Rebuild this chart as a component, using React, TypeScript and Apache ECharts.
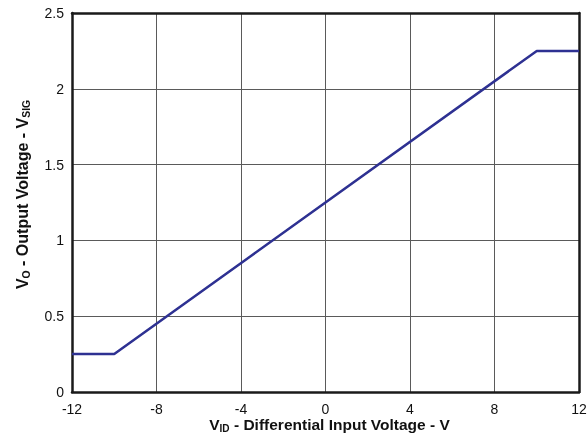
import React, { useEffect, useRef } from "react";
import * as echarts from "echarts";

// Transfer curve: differential input voltage (V) vs output voltage (V)
const inputVoltage = [-12, -10, 10, 12];
const outputVoltage = [0.25, 0.25, 2.25, 2.25];
const xTicks = { min: -12, max: 12, interval: 4 };
const yTicks = { min: 0, max: 2.5, interval: 0.5 };

const FONT = "'Liberation Sans', Arial, sans-serif";
const FRAME = { show: true, onZero: false, lineStyle: { color: "#1a1a1a", width: 2.5 } };
const GRID_LINE = { show: true, showMinLine: false, showMaxLine: false, lineStyle: { color: "#5a5a5a", width: 1 } };

const titleRich = (size: number) => ({
  b: { fontSize: size, fontWeight: "bold", fontFamily: FONT, color: "#111", lineHeight: size + 4 },
  s: { fontSize: size * 0.65, fontWeight: "bold", fontFamily: FONT, color: "#111", padding: [size * 0.55, 0, 0, 0], lineHeight: size + 4 },
});

export default function App() {
  const ref = useRef<HTMLDivElement>(null);

  useEffect(() => {
    if (!ref.current) return;
    const chart = echarts.init(ref.current, undefined, { renderer: "svg" });
    const points = inputVoltage.map((x, i) => [x, outputVoltage[i]]);
    // plain axes used only to close the plot frame on the top and right
    const frameAxis = (position: string) => ({
      type: "value",
      position,
      min: 0,
      max: 1,
      axisLine: FRAME,
      axisTick: { show: false },
      axisLabel: { show: false },
      splitLine: { show: false },
    });
    chart.setOption({
      animation: false,
      grid: {
        left: 72,
        right: 8,
        top: 13,
        bottom: 44,
        outerBoundsMode: "none",
        containLabel: false,
      },
      xAxis: [
        {
          type: "value",
          min: xTicks.min,
          max: xTicks.max,
          interval: xTicks.interval,
          axisLine: FRAME,
          axisTick: { show: false },
          splitLine: GRID_LINE,
          axisLabel: { color: "#111", fontSize: 14, fontFamily: FONT, margin: 10 },
          name: "{b|V}{s|ID}{b| - Differential Input Voltage - V}",
          nameLocation: "middle",
          nameGap: 32,
          nameMoveOverlap: false,
          nameTextStyle: { rich: titleRich(15.5), verticalAlign: "middle", padding: [0, 0, 0, 8] },
        },
        frameAxis("top"),
      ],
      yAxis: [
        {
          type: "value",
          min: yTicks.min,
          max: yTicks.max,
          interval: yTicks.interval,
          axisLine: FRAME,
          axisTick: { show: false },
          splitLine: GRID_LINE,
          axisLabel: { color: "#111", fontSize: 14, fontFamily: FONT, margin: 8, padding: [3, 0, 0, 0] },
          name: "{b|V}{s|O}{b| - Output Voltage - V}{s|SIG}",
          nameLocation: "middle",
          nameRotate: 90,
          nameGap: 40,
          nameMoveOverlap: false,
          nameTextStyle: { rich: titleRich(16), padding: [0, 0, 0, 16] },
        },
        frameAxis("right"),
      ],
      series: [
        {
          type: "line",
          data: points,
          showSymbol: false,
          lineStyle: { color: "#2e3192", width: 2.5 },
        },
      ],
    });
    return () => chart.dispose();
  }, []);

  return <div ref={ref} style={{ position: "fixed", left: 0, top: 0, width: 587, height: 436 }} />;
}
